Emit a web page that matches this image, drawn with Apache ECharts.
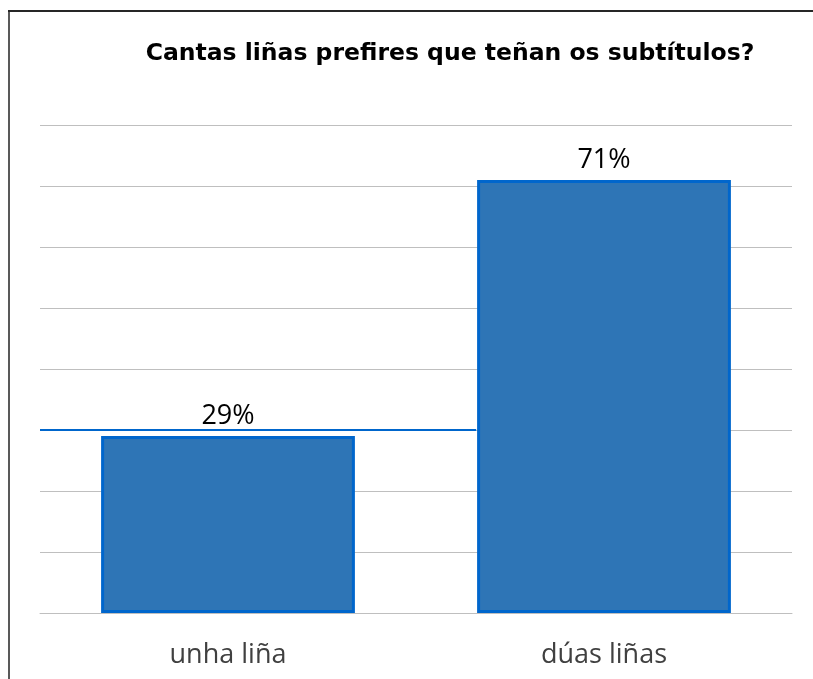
<!DOCTYPE html>
<html>
<head>
<meta charset="utf-8">
<style>
  html, body { margin: 0; padding: 0; background: #fff; }
  #chart { width: 813px; height: 679px; }
</style>
<script src="https://cdn.jsdelivr.net/npm/echarts@6/dist/echarts.min.js"></script>
</head>
<body>
<div id="chart"></div>
<script>
// Survey answers: preferred number of subtitle lines
const categories = ['unha liña', 'dúas liñas'];
const shares = [29, 71];
const axisTicks = [0, 10, 20, 30, 40, 50, 60, 70, 80];
// Highlighted 30% gridline segment, in category-band units (-0.5 = left plot edge)
const highlightSegment = [[-0.5, 30], [0.66, 30]];

const chart = echarts.init(document.getElementById('chart'), null, { renderer: 'canvas' });

chart.setOption({
  animation: false,
  backgroundColor: '#ffffff',
  title: {
    text: 'Cantas liñas prefires que teñan os subtítulos?',
    left: 445,
    top: 37,
    textAlign: 'center',
    textStyle: {
      fontFamily: 'DejaVu Sans',
      fontWeight: 'bold',
      fontSize: 23.5,
      color: '#000000'
    }
  },
  graphic: [
    { type: 'line', shape: { x1: 9, y1: 11, x2: 9, y2: 679 }, style: { stroke: '#595959', lineWidth: 2 } },
    { type: 'line', shape: { x1: 8, y1: 11, x2: 813, y2: 11 }, style: { stroke: '#262626', lineWidth: 2 } }
  ],
  grid: { left: 40, right: 21, top: 125, bottom: 66, containLabel: false },
  xAxis: [
    {
      type: 'category',
      data: categories,
      axisLine: { show: true, lineStyle: { color: '#BFBFBF', width: 1 } },
      axisTick: { show: false },
      axisLabel: {
        fontFamily: 'Open Sans',
        fontSize: 27,
        color: '#404040',
        margin: 29
      }
    },
    {
      type: 'value',
      min: -0.5,
      max: 1.5,
      show: false
    }
  ],
  yAxis: {
    type: 'value',
    min: axisTicks[0],
    max: axisTicks[axisTicks.length - 1],
    interval: 10,
    axisLabel: { show: false },
    axisLine: { show: false },
    axisTick: { show: false },
    splitLine: { lineStyle: { color: '#BFBFBF', width: 1 } }
  },
  series: [
    {
      type: 'bar',
      data: shares,
      barWidth: '67.5%',
      itemStyle: {
        color: '#2E75B6',
        borderColor: '#0066CC',
        borderWidth: 3
      },
      label: {
        show: true,
        position: 'top',
        distance: 6,
        formatter: '{c}%',
        fontFamily: 'Open Sans',
        fontSize: 27,
        color: '#000000'
      },
      z: 3
    },
    {
      type: 'line',
      xAxisIndex: 1,
      data: highlightSegment,
      symbol: 'none',
      lineStyle: { color: '#0066CC', width: 2 },
      z: 2
    }
  ]
});
</script>
</body>
</html>
